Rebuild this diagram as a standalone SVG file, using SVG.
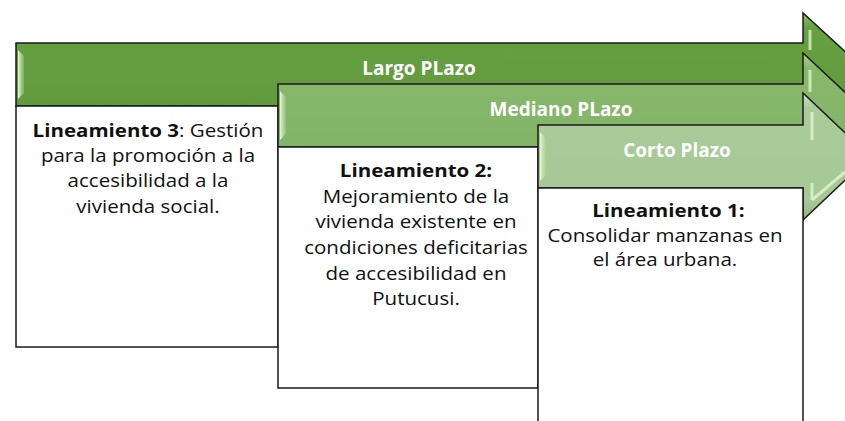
<svg xmlns="http://www.w3.org/2000/svg" width="845" height="421" viewBox="0 0 845 421">
  <defs>
    <linearGradient id="gLargo" x1="0" y1="0" x2="0" y2="1">
      <stop offset="0" stop-color="#8fbf70"/>
      <stop offset="0.12" stop-color="#66a040"/>
      <stop offset="0.85" stop-color="#62993e"/>
      <stop offset="1" stop-color="#4f8030"/>
    </linearGradient>
    <linearGradient id="gMediano" x1="0" y1="0" x2="0" y2="1">
      <stop offset="0" stop-color="#abd293"/>
      <stop offset="0.12" stop-color="#87b86c"/>
      <stop offset="0.85" stop-color="#82b467"/>
      <stop offset="1" stop-color="#6a9c52"/>
    </linearGradient>
    <linearGradient id="gCorto" x1="0" y1="0" x2="0" y2="1">
      <stop offset="0" stop-color="#c9e2bc"/>
      <stop offset="0.12" stop-color="#aacb9a"/>
      <stop offset="0.85" stop-color="#a6c895"/>
      <stop offset="1" stop-color="#8fb27e"/>
    </linearGradient>
    <linearGradient id="gBevel" x1="0" y1="0" x2="1" y2="0">
      <stop offset="0" stop-color="#e8f8d8"/>
      <stop offset="1" stop-color="#b6dc98" stop-opacity="0.3"/>
    </linearGradient>
  </defs>
  <style>
    .arrow { stroke: #1a1a1a; stroke-width: 1.5; stroke-linejoin: miter; }
    .bevel { fill: url(#gBevel); }
    .hl { fill: none; stroke: #e6f7d6; stroke-width: 3; stroke-opacity: 0.75; }
    .box { fill: #ffffff; stroke: #1a1a1a; stroke-width: 1.5; }
    .head { font-family: "Open Sans", "Noto Sans", "Liberation Sans", sans-serif; font-weight: bold; font-size: 19px; fill: #ffffff; text-anchor: middle; }
    .body { font-family: "Open Sans", "Noto Sans", "Liberation Sans", sans-serif; font-size: 18px; fill: #111111; text-anchor: middle; }
    .b { font-weight: bold; }
  </style>

  <g id="largo-plazo">
    <path class="arrow" d="M16,43 H803 V13 L870,74.5 L803,136 V106 H16 Z" fill="url(#gLargo)"/>
    <path class="bevel" d="M18,50 L24,56 V93 L18,99 Z"/>
    <path class="hl" d="M810,30 V50"/>
    <text class="head" x="419" y="75">Largo PLazo</text>
  </g>

  <g id="lineamiento-3">
    <rect class="box" x="16" y="106" width="262" height="241"/>
    <g transform="translate(148,0) scale(1.14,1)">
      <text class="body" x="0" y="137"><tspan class="b">Lineamiento 3</tspan>: Gestión</text>
      <text class="body" x="0" y="162">para la promoción a la</text>
      <text class="body" x="0" y="187">accesibilidad a la</text>
      <text class="body" x="0" y="213">vivienda social.</text>
    </g>
  </g>

  <g id="mediano-plazo">
    <path class="arrow" d="M278,84 H803 V53 L870,115.5 L803,178 V147 H278 Z" fill="url(#gMediano)"/>
    <path class="bevel" d="M280,91 L286,97 V134 L280,140 Z"/>
    <path class="hl" d="M810,70 V92"/>
    <path class="hl" d="M830,168 L845,154"/>
    <text class="head" x="561" y="116">Mediano PLazo</text>
  </g>

  <g id="lineamiento-2">
    <rect class="box" x="278" y="147" width="260" height="241"/>
    <g transform="translate(416,0) scale(1.14,1)">
      <text class="body" x="0" y="177"><tspan class="b">Lineamiento 2:</tspan></text>
      <text class="body" x="0" y="203">Mejoramiento de la</text>
      <text class="body" x="0" y="228">vivienda existente en</text>
      <text class="body" x="0" y="254">condiciones deficitarias</text>
      <text class="body" x="0" y="280">de accesibilidad en</text>
      <text class="body" x="0" y="305">Putucusi.</text>
    </g>
  </g>

  <g id="corto-plazo">
    <path class="arrow" d="M538,125 H803 V93 L870,156.5 L803,220 V188 H538 Z" fill="url(#gCorto)"/>
    <path class="bevel" d="M540,132 L546,138 V175 L540,181 Z"/>
    <path class="hl" d="M812,112 V140"/>
    <path class="hl" d="M812,200 L812,183 M812,200 L845,172"/>
    <text class="head" x="677" y="157">Corto Plazo</text>
  </g>

  <g id="lineamiento-1">
    <rect class="box" x="538" y="188" width="265" height="245"/>
    <g transform="translate(665,0) scale(1.14,1)">
      <text class="body" x="3" y="217"><tspan class="b">Lineamiento 1:</tspan></text>
      <text class="body" x="0" y="242">Consolidar manzanas en</text>
      <text class="body" x="0" y="266">el área urbana.</text>
    </g>
  </g>

  <g id="connectors"></g>
</svg>
